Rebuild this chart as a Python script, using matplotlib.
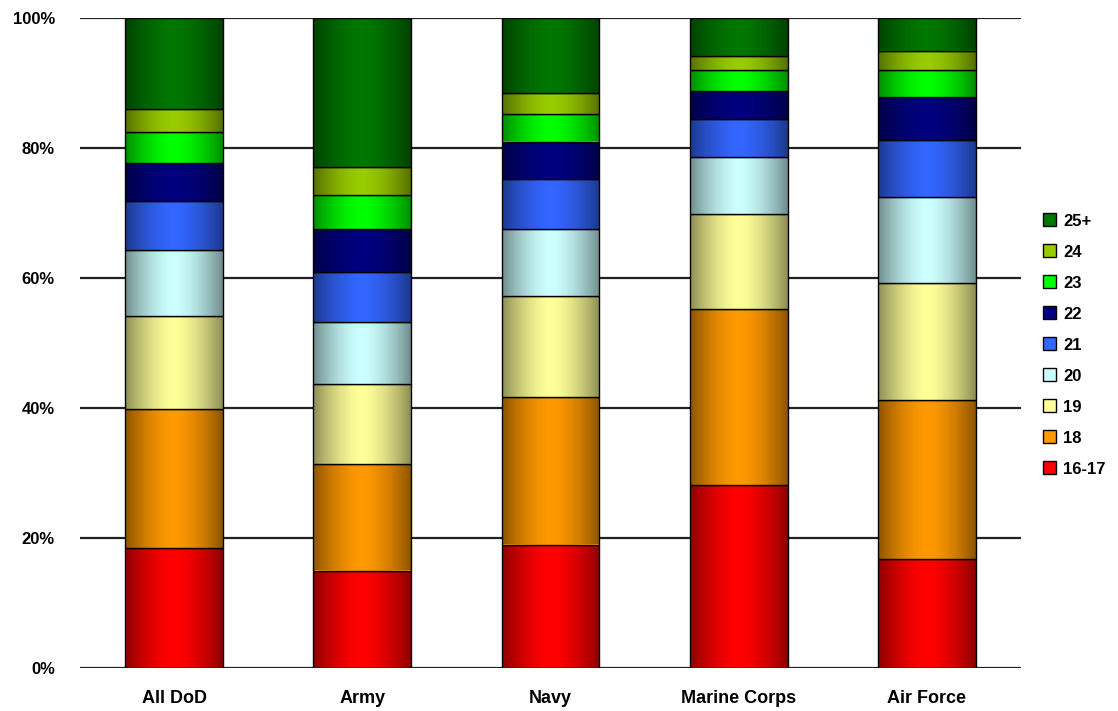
import numpy as np
import matplotlib
matplotlib.use("Agg")
import matplotlib.pyplot as plt

categories = ["All DoD", "Army", "Navy", "Marine Corps", "Air Force"]
age_groups = ["16-17", "18", "19", "20", "21", "22", "23", "24", "25+"]

v_16_17 = [18.5, 15.0, 19.0, 28.1, 16.8]
v_18 = [21.3, 16.4, 22.7, 27.1, 24.4]
v_19 = [14.4, 12.3, 15.5, 14.6, 18.1]
v_20 = [10.1, 9.6, 10.3, 8.8, 13.2]
v_21 = [7.6, 7.6, 7.7, 5.9, 8.7]
v_22 = [5.8, 6.7, 5.8, 4.3, 6.7]
v_23 = [4.7, 5.2, 4.3, 3.2, 4.1]
v_24 = [3.6, 4.3, 3.1, 2.2, 3.0]
v_25p = [14.0, 22.9, 11.6, 5.8, 5.0]

series = [v_16_17, v_18, v_19, v_20, v_21, v_22, v_23, v_24, v_25p]
colors = ["#ff0000", "#ff9900", "#ffff99", "#ccffff", "#3366ff",
          "#000080", "#00ff00", "#99cc00", "#007700"]

plt.rcParams['font.family'] = ['Liberation Sans', 'DejaVu Sans']

fig = plt.figure(figsize=(11.18, 7.11), dpi=100)
ax = fig.add_axes([80/1118, 1-668/711, 941/1118, 650/711])

x = np.arange(len(categories))
width = 0.52
bottom = np.zeros(len(categories))

# horizontal shading gradient (dark edges, light center)
g = np.linspace(-1, 1, 200)
alpha = 0.45 * np.abs(g) ** 1.6
shade = np.zeros((1, 200, 4))
shade[0, :, 3] = alpha

ax.yaxis.grid(True, color="#222222", linewidth=1.6, zorder=0)
ax.set_axisbelow(True)

for vals, col, lab in zip(series, colors, age_groups):
    vals = np.array(vals, dtype=float)
    bars = ax.bar(x, vals, width, bottom=bottom, color=col, edgecolor="black",
                  linewidth=1.0, label=lab, zorder=2)
    for b in bars:
        x0, y0 = b.get_x(), b.get_y()
        w, h = b.get_width(), b.get_height()
        im = ax.imshow(shade, extent=[x0, x0 + w, y0, y0 + h], aspect='auto',
                       zorder=2.5, interpolation='bilinear')
        im.set_clip_path(b)
    bottom += vals

ax.set_xlim(-0.5, len(categories) - 0.5)
ax.set_ylim(0, 100)
ax.set_yticks([0, 20, 40, 60, 80, 100])
ax.set_yticklabels(["0%", "20%", "40%", "60%", "80%", "100%"],
                   fontsize=12, fontweight='bold')
ax.set_xticks(x)
ax.set_xticklabels(categories, fontsize=13, fontweight='bold')
ax.tick_params(axis='y', length=0, pad=18)
ax.tick_params(axis='x', length=0, pad=16)
for s in ax.spines.values():
    s.set_visible(False)

handles, labels = ax.get_legend_handles_labels()
leg = fig.legend(handles[::-1], labels[::-1], loc='center left',
                 bbox_to_anchor=(1028/1118, 1-345/711), frameon=False,
                 handlelength=0.8, handleheight=0.8, handletextpad=0.4,
                 labelspacing=0.95, prop={'weight': 'bold', 'size': 12})

fig.savefig("out.png", dpi=100)
